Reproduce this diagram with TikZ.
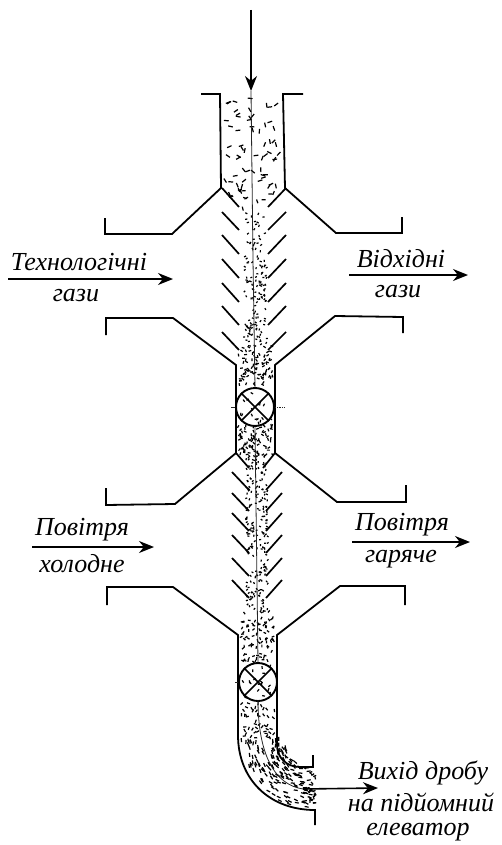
\documentclass[tikz,border=0pt]{standalone}
\usepackage{fontspec}
\setmainfont{Liberation Serif}
\usetikzlibrary{arrows.meta}
\tikzset{
  wall/.style={line width=1.8pt,line join=miter,black},
  baffle/.style={line width=1.7pt,black},
  axisline/.style={line width=0.8pt,black!85},
  flow/.style={line width=1.6pt,black,-{Stealth[length=15pt,width=12pt]}},
  lab/.style={font=\itshape\fontsize{26}{28}\selectfont,inner sep=0pt,anchor=center,black},
}
\newcommand{\grainbox}[6]{% count, x0, x1, y0, y1, half length
  \foreach \gi in {1,...,#1}{
    \pgfmathsetmacro{\gx}{#2+(#3-#2)*rnd}
    \pgfmathsetmacro{\gy}{#4+(#5-#4)*rnd}
    \pgfmathsetmacro{\ga}{180*rnd}
    \draw[line width=1.2pt] ({\gx-#6*cos(\ga)},{\gy-#6*sin(\ga)}) -- ({\gx+#6*cos(\ga)},{\gy+#6*sin(\ga)});
  }
}
\begin{document}
\begin{tikzpicture}[x=1pt,y=-1pt]
\useasboundingbox (0,0) rectangle (502,845);
\pgfmathsetseed{4711}
% granular charge
\grainbox{58}{225}{280}{98}{188}{2.4}
\foreach \gi in {1,...,14}{
  \pgfmathsetmacro{\gy}{188+22*rnd}
  \pgfmathsetmacro{\gh}{31-(\gy-188)*0.75}
  \pgfmathsetmacro{\gx}{253+\gh*(2*rnd-1)*0.9}
  \pgfmathsetmacro{\ga}{180*rnd}
  \draw[line width=1.2pt] ({\gx-2*cos(\ga)},{\gy-2*sin(\ga)}) -- ({\gx+2*cos(\ga)},{\gy+2*sin(\ga)});
}
\grainbox{32}{243}{265}{210}{262}{1.1}
\grainbox{110}{244}{267}{262}{345}{1.0}
\grainbox{85}{238}{273}{345}{385}{1.4}
\grainbox{75}{238}{273}{425}{455}{1.4}
\grainbox{16}{240}{272}{388}{424}{1.4}
\grainbox{210}{246}{268}{455}{610}{1.0}
\grainbox{85}{241}{274}{610}{662}{1.4}
\grainbox{18}{242}{274}{665}{700}{1.4}
\grainbox{48}{241}{275}{702}{738}{1.6}
\foreach \gi in {1,...,165}{
  \pgfmathsetmacro{\gr}{28+43*rnd}
  \pgfmathsetmacro{\gt}{180+90*rnd}
  \pgfmathsetmacro{\gx}{312+\gr*cos(\gt)}
  \pgfmathsetmacro{\gy}{738-\gr*sin(\gt)}
  \pgfmathsetmacro{\ga}{-\gt+90+40*(rnd-0.5)}
  \draw[line width=1.2pt] ({\gx-2*cos(\ga)},{\gy-2*sin(\ga)}) -- ({\gx+2*cos(\ga)},{\gy+2*sin(\ga)});
}
\grainbox{22}{306}{316}{770}{808}{1.6}

% upper feed and first chamber
\draw[wall] (201,94) -- (220,94) -- (221,188) -- (172,234) -- (105,234) -- (105,218);
\draw[wall] (303,94) -- (283,94) -- (285,188) -- (336,233) -- (402,233) -- (402,217);
% middle chambers
\draw[wall] (106,335) -- (106,318) -- (173,318) -- (236,365) -- (236,453) -- (175,504) -- (106,505) -- (106,488);
\draw[wall] (403,333) -- (403,317) -- (335,316) -- (275,365) -- (275,453) -- (337,502) -- (406,502) -- (406,485);
% lower chamber and discharge
\draw[wall] (107,605) -- (107,587) -- (173,587) -- (238,635) -- (238,735)
   .. controls (238,780) and (270,810) .. (315,810) -- (315,825);
\draw[wall] (405,605) -- (405,586) -- (340,586) -- (277,635) -- (277,745)
   .. controls (277,758) and (287,767) .. (300,767) -- (313,767) -- (313,755);

% baffles, upper stack
\foreach \yy/\ye in {188/207,212/230,235/254,259/278,283/302,306/325,332/350}{
  \draw[baffle] (222,\yy) -- (239,\ye);
  \draw[baffle] (286,\yy) -- (268,\ye);
}
% baffles, lower stack
\draw[baffle] (236,453) -- (249,468);
\draw[baffle] (275,453) -- (263,468);
\foreach \yy in {472,493,513,535,558,580}{
  \draw[baffle] (232,\yy) -- (249,\yy+18);
  \draw[baffle] (282,\yy) -- (266,\yy+18);
}

% valves
\node[circle,draw,line width=1.9pt,minimum size=38pt,inner sep=0pt] (v1) at (255,407) {};
\node[circle,draw,line width=1.9pt,minimum size=38pt,inner sep=0pt] (v2) at (258,682) {};
\foreach \v in {v1,v2}{
  \draw[line width=1.6pt] (\v.45) -- (\v.225);
  \draw[line width=1.6pt] (\v.135) -- (\v.315);
}
\draw[axisline] (231,407) -- (v1.west);
\draw[axisline,densely dotted] (v1.east) -- (285,407);
\draw[axisline] (235,682) -- (v2.west);

% central axis
\coordinate (feedtop) at (251,10);
\coordinate (feedend) at (251,91);
\coordinate (axisb) at (253,260);
\coordinate (axisc) at (258,700);
\coordinate (outstart) at (303,789);
\coordinate (outend) at (378,788);
\draw[axisline] (feedend) -- (axisb) -- (v1.north);
\draw[axisline] (v1.south) -- (v2.north);
\draw[axisline] (v2.south) -- (axisc) .. controls (258,755) and (275,785) .. (outstart);
\draw[flow] (feedtop) -- (feedend);
\draw[flow] (outstart) -- (outend);

% labels and flows
\node[lab] (t1) at (79,262) {Технологічні};
\node[lab] (t2) at (76,296) {гази};
\coordinate (t3) at (8,279);
\coordinate (t4) at (173,279);
\draw[flow] (t3) -- (t4);

\node[lab] (o1) at (401,259) {Відхідні};
\node[lab] (o2) at (398,292) {гази};
\coordinate (o3) at (349,275);
\coordinate (o4) at (468,275);
\draw[flow] (o3) -- (o4);

\node[lab] (c1) at (82,530) {Повітря};
\node[lab] (c2) at (82,564) {холодне};
\coordinate (c3) at (32,547);
\coordinate (c4) at (154,547);
\draw[flow] (c3) -- (c4);

\node[lab] (h1) at (402,525) {Повітря};
\node[lab] (h2) at (401,559) {гаряче};
\coordinate (h3) at (352,542);
\coordinate (h4) at (470,542);
\draw[flow] (h3) -- (h4);

\node[lab] (e1) at (423,773) {Вихід дробу};
\node[lab] (e2) at (421,802) {на підйомний};
\node[lab] (e3) at (418,832) {елеватор};
\end{tikzpicture}
\end{document}
